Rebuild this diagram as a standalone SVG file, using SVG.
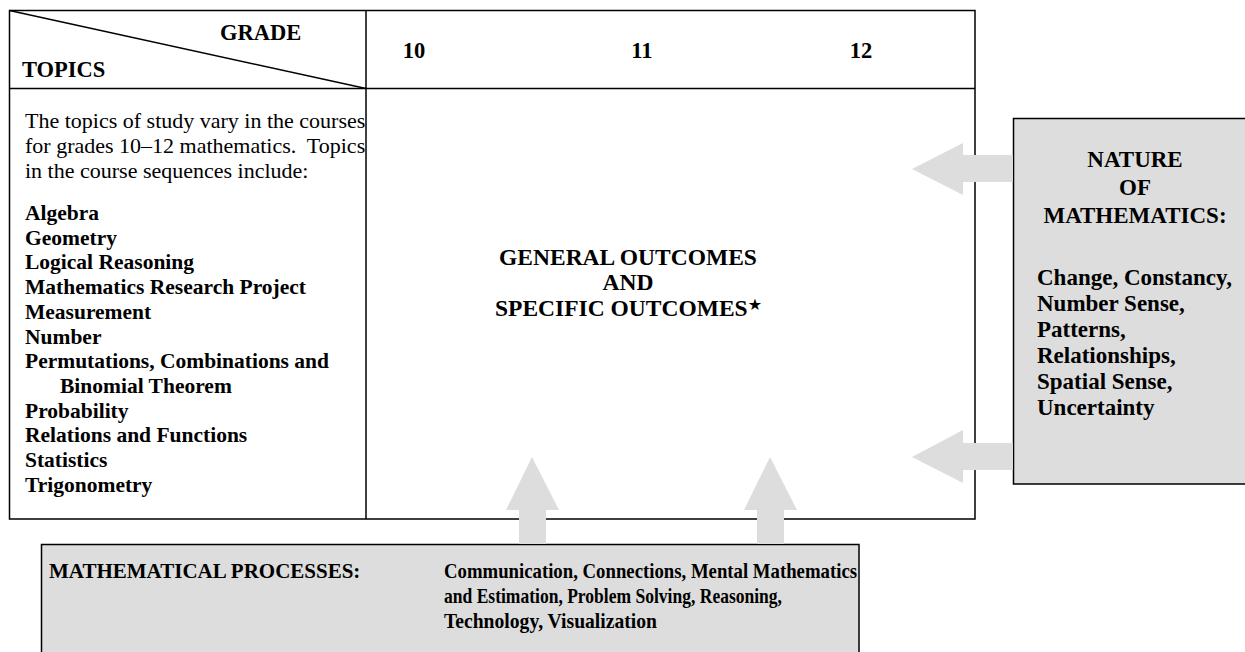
<svg xmlns="http://www.w3.org/2000/svg" width="1245" height="652" viewBox="0 0 1245 652">
<style>
text{font-family:"Liberation Serif","Times New Roman",serif;fill:#000}
.r{font-size:22px}
.l{font-size:21.5px;font-weight:bold}
.h{font-size:22.5px;font-weight:bold}
.n{font-size:23px;font-weight:bold}
.o{font-size:23.5px;font-weight:bold}
.p{font-size:21px;font-weight:bold}
.line{stroke:#000;stroke-width:1.5;fill:none}
.box{fill:#dddddd;stroke:#000;stroke-width:1.5}
.arrow{fill:#dddddd;stroke:none}
</style>
<rect width="1245" height="652" fill="#fff"/>
<g id="table">
<rect class="line" x="9.5" y="10.5" width="965.5" height="508.5"/>
<line class="line" x1="9.5" y1="88.5" x2="975" y2="88.5"/>
<line class="line" x1="366" y1="10.5" x2="366" y2="519"/>
<line class="line" x1="9.5" y1="10.5" x2="366" y2="88.5"/>
<text class="h" x="220" y="40">GRADE</text>
<text class="h" x="22" y="77">TOPICS</text>
<text class="h" x="414" y="58" text-anchor="middle">10</text>
<text class="h" x="642" y="58" text-anchor="middle">11</text>
<text class="h" x="861" y="58" text-anchor="middle">12</text>
</g>
<g id="topics">
<text class="r" x="25" y="128">The topics of study vary in the courses</text>
<text class="r" x="25" y="153" xml:space="preserve">for grades 10–12 mathematics.  Topics</text>
<text class="r" x="25" y="178">in the course sequences include:</text>
<text class="l" x="25" y="220">Algebra</text>
<text class="l" x="25" y="244.7">Geometry</text>
<text class="l" x="25" y="269.4">Logical Reasoning</text>
<text class="l" x="25" y="294.1">Mathematics Research Project</text>
<text class="l" x="25" y="318.8">Measurement</text>
<text class="l" x="25" y="343.5">Number</text>
<text class="l" x="25" y="368.2">Permutations, Combinations and</text>
<text class="l" x="60" y="392.9">Binomial Theorem</text>
<text class="l" x="25" y="417.6">Probability</text>
<text class="l" x="25" y="442.3">Relations and Functions</text>
<text class="l" x="25" y="467">Statistics</text>
<text class="l" x="25" y="491.7">Trigonometry</text>
</g>
<g id="outcomes">
<text class="o" x="628" y="265" text-anchor="middle">GENERAL OUTCOMES</text>
<text class="o" x="628" y="290" text-anchor="middle">AND</text>
<text class="o" x="495" y="316">SPECIFIC OUTCOMES<tspan font-family="DejaVu Sans,sans-serif" font-size="16" dy="-6">★</tspan></text>
</g>
<g id="nature">
<rect class="box" x="1013.5" y="118.5" width="240" height="365.5"/>
<text class="n" x="1135" y="167" text-anchor="middle">NATURE</text>
<text class="n" x="1135" y="195" text-anchor="middle">OF</text>
<text class="n" x="1135" y="223" text-anchor="middle">MATHEMATICS:</text>
<text class="n" x="1037" y="285">Change, Constancy,</text>
<text class="n" x="1037" y="311">Number Sense,</text>
<text class="n" x="1037" y="337">Patterns,</text>
<text class="n" x="1037" y="363">Relationships,</text>
<text class="n" x="1037" y="389">Spatial Sense,</text>
<text class="n" x="1037" y="415">Uncertainty</text>
</g>
<g id="processes">
<rect class="box" x="41.5" y="544.5" width="817.5" height="120"/>
<text class="p" x="49" y="578">MATHEMATICAL PROCESSES:</text>
<text class="p" x="444" y="578" textLength="413" lengthAdjust="spacingAndGlyphs">Communication, Connections, Mental Mathematics</text>
<text class="p" x="444" y="603" textLength="338" lengthAdjust="spacingAndGlyphs">and Estimation, Problem Solving, Reasoning,</text>
<text class="p" x="444" y="628" textLength="213" lengthAdjust="spacingAndGlyphs">Technology, Visualization</text>
</g>
<g id="connectors">
<polygon class="arrow" points="912,169 963,143 963,155 1013,155 1013,182 963,182 963,195"/>
<polygon class="arrow" points="912,457 963,430 963,443 1013,443 1013,470 963,470 963,483"/>
<polygon class="arrow" points="532,457 559,510 546,510 546,544 519,544 519,510 506,510"/>
<polygon class="arrow" points="770,457 797,510 784,510 784,544 757,544 757,510 744,510"/>
</g>
</svg>
